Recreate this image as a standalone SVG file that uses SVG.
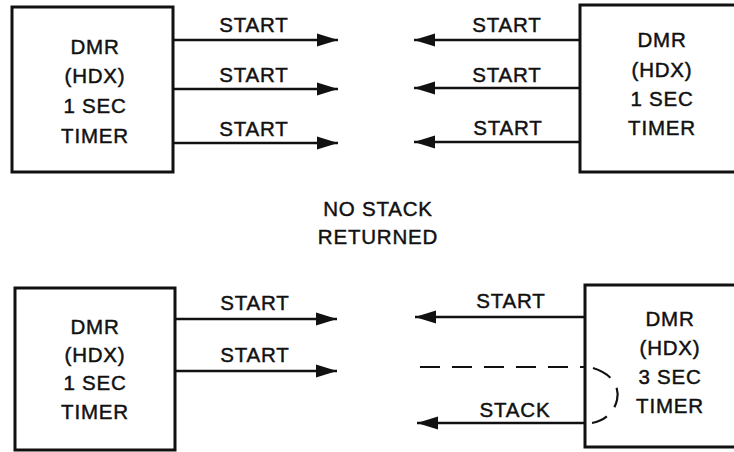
<svg xmlns="http://www.w3.org/2000/svg" width="734" height="452" viewBox="0 0 734 452">
<style>
.box{fill:#fff;stroke:#111;stroke-width:3}
.t{font-family:"Liberation Sans",Arial,sans-serif;font-size:20.5px;fill:#111;stroke:#111;stroke-width:0.45;text-anchor:middle;letter-spacing:0.8px}
.ln{stroke:#111;stroke-width:2.6;fill:none}
.dash{stroke:#111;stroke-width:2.2;fill:none;stroke-dasharray:20 12}
</style>
<defs>
<marker id="ah" markerUnits="userSpaceOnUse" markerWidth="22" markerHeight="14" refX="21" refY="7" orient="auto">
<path d="M0,0.5 L21,7 L0,13.5 z" fill="#111"/>
</marker>
</defs>
<rect width="734" height="452" fill="#fff"/>
<g id="box-tl">
<rect class="box" x="12" y="7" width="161" height="165"/>
<text class="t" x="95" y="54">DMR</text>
<text class="t" x="95" y="83">(HDX)</text>
<text class="t" x="95" y="113">1 SEC</text>
<text class="t" x="95" y="143">TIMER</text>
</g>
<g id="box-tr">
<rect class="box" x="580" y="5" width="160" height="167"/>
<text class="t" x="662" y="47">DMR</text>
<text class="t" x="662" y="77">(HDX)</text>
<text class="t" x="662" y="106">1 SEC</text>
<text class="t" x="662" y="135">TIMER</text>
</g>
<g id="box-bl">
<rect class="box" x="15" y="288" width="160" height="162"/>
<text class="t" x="95" y="334">DMR</text>
<text class="t" x="95" y="362">(HDX)</text>
<text class="t" x="95" y="390">1 SEC</text>
<text class="t" x="95" y="419">TIMER</text>
</g>
<g id="box-br">
<rect class="box" x="585" y="285" width="155" height="162"/>
<text class="t" x="670" y="326">DMR</text>
<text class="t" x="670" y="355">(HDX)</text>
<text class="t" x="670" y="384">3 SEC</text>
<text class="t" x="670" y="413">TIMER</text>
</g>
<g id="note">
<text class="t" x="378" y="216">NO STACK</text>
<text class="t" x="378" y="244">RETURNED</text>
</g>
<g id="connectors">
<line class="ln" x1="173" y1="40" x2="338" y2="40" marker-end="url(#ah)"/>
<line class="ln" x1="173" y1="89" x2="338" y2="89" marker-end="url(#ah)"/>
<line class="ln" x1="173" y1="143" x2="338" y2="143" marker-end="url(#ah)"/>
<text class="t" x="254" y="32">START</text>
<text class="t" x="254" y="82">START</text>
<text class="t" x="254" y="136">START</text>
<line class="ln" x1="580" y1="40" x2="414" y2="40" marker-end="url(#ah)"/>
<line class="ln" x1="580" y1="88" x2="414" y2="88" marker-end="url(#ah)"/>
<line class="ln" x1="580" y1="142" x2="414" y2="142" marker-end="url(#ah)"/>
<text class="t" x="507" y="32">START</text>
<text class="t" x="507" y="82">START</text>
<text class="t" x="508" y="135">START</text>
<line class="ln" x1="175" y1="319" x2="337" y2="319" marker-end="url(#ah)"/>
<line class="ln" x1="175" y1="371" x2="337" y2="371" marker-end="url(#ah)"/>
<text class="t" x="255" y="310">START</text>
<text class="t" x="255" y="362">START</text>
<line class="ln" x1="585" y1="317" x2="415" y2="317" marker-end="url(#ah)"/>
<text class="t" x="511" y="308">START</text>
<line class="dash" x1="420" y1="367" x2="585" y2="367"/>
<path class="dash" stroke-dasharray="14 9" d="M593,368 C612,374 620,386 617,400 C614,413 604,421 592,423"/>
<line class="ln" x1="585" y1="423" x2="417" y2="423" marker-end="url(#ah)"/>
<text class="t" x="515" y="417">STACK</text>
</g>
</svg>
